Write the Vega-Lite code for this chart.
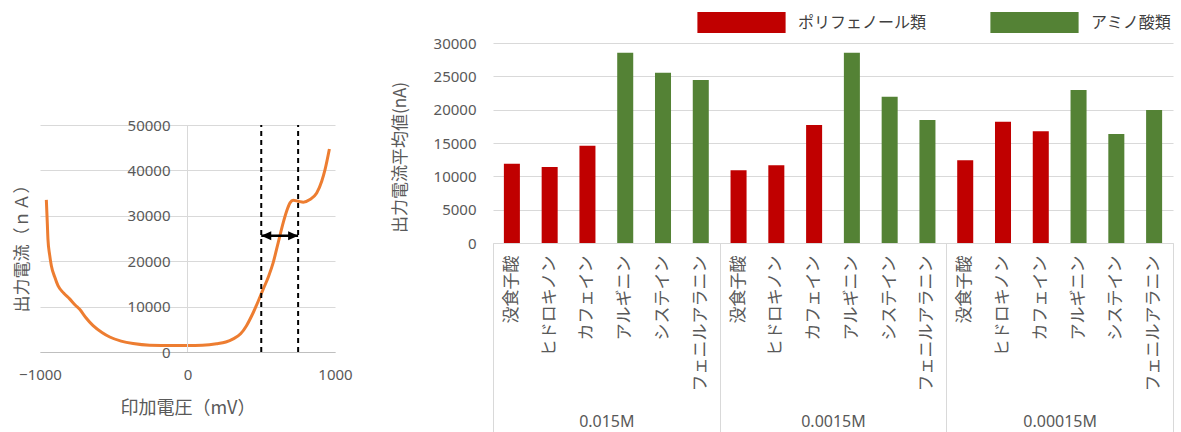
{
  "$schema": "https://vega.github.io/schema/vega-lite/v6.json",
  "padding": {"left": 13, "top": 12, "right": 5, "bottom": 0},
  "bounds": "flush",
  "spacing": 158,
  "config": {
    "view": {"stroke": null},
    "font": "Noto Sans CJK JP",
    "axis": {"titleFontWeight": "normal", "titleColor": "#595959", "labelColor": "#595959"}
  },
  "hconcat": [
    {
      "width": 295,
      "height": 309,
      "layer": [
        {
          "data": {"values": [
            {"mV": -957, "nA": 33500}, {"mV": -950, "nA": 28000}, {"mV": -946, "nA": 24800},
            {"mV": -935, "nA": 21500}, {"mV": -923, "nA": 19000}, {"mV": -900, "nA": 16500},
            {"mV": -878, "nA": 14600}, {"mV": -840, "nA": 13000}, {"mV": -799, "nA": 11700},
            {"mV": -760, "nA": 10300}, {"mV": -731, "nA": 9400}, {"mV": -690, "nA": 7600},
            {"mV": -640, "nA": 5800}, {"mV": -580, "nA": 4300}, {"mV": -527, "nA": 3300},
            {"mV": -450, "nA": 2400}, {"mV": -369, "nA": 1850}, {"mV": -256, "nA": 1500},
            {"mV": -100, "nA": 1450}, {"mV": 0, "nA": 1450}, {"mV": 100, "nA": 1500},
            {"mV": 197, "nA": 1800}, {"mV": 260, "nA": 2200}, {"mV": 310, "nA": 2900},
            {"mV": 360, "nA": 4000}, {"mV": 400, "nA": 5800}, {"mV": 446, "nA": 8700},
            {"mV": 514, "nA": 13900}, {"mV": 550, "nA": 16700}, {"mV": 581, "nA": 19700},
            {"mV": 615, "nA": 24100}, {"mV": 649, "nA": 28500}, {"mV": 672, "nA": 31000},
            {"mV": 695, "nA": 32850}, {"mV": 717, "nA": 33400}, {"mV": 751, "nA": 33200},
            {"mV": 785, "nA": 33000}, {"mV": 830, "nA": 33600}, {"mV": 876, "nA": 35000},
            {"mV": 910, "nA": 37600}, {"mV": 932, "nA": 40100}, {"mV": 962, "nA": 44700}
          ]},
          "mark": {"type": "line", "color": "#ED7D31", "strokeWidth": 3, "interpolate": "monotone"},
          "encoding": {
            "x": {
              "field": "mV", "type": "quantitative",
              "scale": {"domain": [-1000, 1000], "nice": false},
              "axis": {
                "values": [-1000, 0, 1000], "format": "d", "grid": false, "ticks": false,
                "labelFlush": false,
                "domain": true, "domainColor": "#bfbfbf",
                "labelPadding": 15, "labelFontSize": 15, "labelFont": "Noto Sans",
                "title": "印加電圧（mV）", "titleFontSize": 18, "titlePadding": 17
              }
            },
            "y": {
              "field": "nA", "type": "quantitative",
              "scale": {"domain": [0, 68062], "nice": false},
              "axis": {
                "values": [0, 10000, 20000, 30000, 40000, 50000], "format": "d",
                "offset": -148, "domain": false, "ticks": false,
                "grid": true, "gridColor": "#d9d9d9",
                "labelPadding": 18, "labelFontSize": 15, "labelFont": "Noto Sans",
                "title": "出力電流（ｎＡ）", "titleFontSize": 17,
                "titleX": -157, "titleY": 201
              }
            }
          }
        },
        {
          "data": {"values": [{"mV": 0}]},
          "mark": {"type": "rule", "color": "#d9d9d9", "strokeWidth": 1},
          "encoding": {
            "x": {"field": "mV", "type": "quantitative"},
            "y": {"datum": 0}, "y2": {"datum": 50000}
          }
        },
        {
          "data": {"values": [{"mV": 500}, {"mV": 750}]},
          "mark": {"type": "rule", "color": "#000000", "strokeWidth": 2, "strokeDash": [5, 4]},
          "encoding": {
            "x": {"field": "mV", "type": "quantitative"},
            "y": {"datum": 0}, "y2": {"datum": 50000}
          }
        },
        {
          "data": {"values": [{"from": 500, "to": 750, "nA": 25600}]},
          "layer": [
            {
              "mark": {"type": "rule", "color": "#000000", "strokeWidth": 2.5},
              "encoding": {
                "x": {"field": "from", "type": "quantitative"},
                "x2": {"field": "to"},
                "y": {"field": "nA", "type": "quantitative"}
              }
            },
            {
              "mark": {"type": "point", "shape": "M0,0L2,-0.9L2,0.9Z", "filled": true, "color": "#000000", "size": 100, "opacity": 1},
              "encoding": {
                "x": {"field": "from", "type": "quantitative"},
                "y": {"field": "nA", "type": "quantitative"}
              }
            },
            {
              "mark": {"type": "point", "shape": "M0,0L-2,-0.9L-2,0.9Z", "filled": true, "color": "#000000", "size": 100, "opacity": 1},
              "encoding": {
                "x": {"field": "to", "type": "quantitative"},
                "y": {"field": "nA", "type": "quantitative"}
              }
            }
          ]
        }
      ]
    },
    {
      "width": 680,
      "height": 200,
      "data": {"values": [
        {"item": "0.015M:没食子酸", "conc": "0.015M", "type": "ポリフェノール類", "value": 11900},
        {"item": "0.015M:ヒドロキノン", "conc": "0.015M", "type": "ポリフェノール類", "value": 11400},
        {"item": "0.015M:カフェイン", "conc": "0.015M", "type": "ポリフェノール類", "value": 14600},
        {"item": "0.015M:アルギニン", "conc": "0.015M", "type": "アミノ酸類", "value": 28550},
        {"item": "0.015M:システイン", "conc": "0.015M", "type": "アミノ酸類", "value": 25550},
        {"item": "0.015M:フェニルアラニン", "conc": "0.015M", "type": "アミノ酸類", "value": 24450},
        {"item": "0.0015M:没食子酸", "conc": "0.0015M", "type": "ポリフェノール類", "value": 10900},
        {"item": "0.0015M:ヒドロキノン", "conc": "0.0015M", "type": "ポリフェノール類", "value": 11650},
        {"item": "0.0015M:カフェイン", "conc": "0.0015M", "type": "ポリフェノール類", "value": 17700},
        {"item": "0.0015M:アルギニン", "conc": "0.0015M", "type": "アミノ酸類", "value": 28550},
        {"item": "0.0015M:システイン", "conc": "0.0015M", "type": "アミノ酸類", "value": 21950},
        {"item": "0.0015M:フェニルアラニン", "conc": "0.0015M", "type": "アミノ酸類", "value": 18450},
        {"item": "0.00015M:没食子酸", "conc": "0.00015M", "type": "ポリフェノール類", "value": 12400},
        {"item": "0.00015M:ヒドロキノン", "conc": "0.00015M", "type": "ポリフェノール類", "value": 18200},
        {"item": "0.00015M:カフェイン", "conc": "0.00015M", "type": "ポリフェノール類", "value": 16750},
        {"item": "0.00015M:アルギニン", "conc": "0.00015M", "type": "アミノ酸類", "value": 22950},
        {"item": "0.00015M:システイン", "conc": "0.00015M", "type": "アミノ酸類", "value": 16350},
        {"item": "0.00015M:フェニルアラニン", "conc": "0.00015M", "type": "アミノ酸類", "value": 19950}
      ]},
      "layer": [
        {
          "mark": {"type": "bar"},
          "encoding": {
            "x": {
              "field": "item", "type": "nominal", "sort": null,
              "scale": {"paddingInner": 0.576, "paddingOuter": 0.288},
              "axis": {
                "title": null, "labelAngle": -90,
                "labelExpr": "split(datum.label, ':')[1]",
                "ticks": false, "domain": true, "domainColor": "#d9d9d9",
                "labelPadding": 12, "labelFontSize": 17, "labelFont": "Noto Sans CJK JP"
              }
            },
            "y": {
              "field": "value", "type": "quantitative",
              "scale": {"domain": [0, 30000], "nice": false},
              "axis": {
                "values": [0, 5000, 10000, 15000, 20000, 25000, 30000], "format": "d",
                "domain": false, "ticks": false, "grid": true, "gridColor": "#d9d9d9",
                "labelPadding": 17, "labelFontSize": 15, "labelFont": "Noto Sans",
                "title": "出力電流平均値(nA)", "titleFontSize": 17,
                "titleX": -84, "titleY": 114
              }
            },
            "color": {
              "field": "type", "type": "nominal",
              "scale": {"domain": ["ポリフェノール類", "アミノ酸類"], "range": ["#C00000", "#548235"]},
              "legend": {
                "orient": "none", "legendX": 691, "legendY": -31,
                "direction": "horizontal", "title": null,
                "symbolType": "M-4.2,-1H4.2V1H-4.2Z", "symbolSize": 441,
                "symbolOffset": 0, "symbolStrokeWidth": 0,
                "labelOffset": 46, "labelFontSize": 16, "labelColor": "#404040",
                "labelFont": "Noto Sans CJK JP", "labelLimit": 300,
                "columnPadding": 63, "padding": 0,
                "encode": {"symbols": {"update": {"fill": {"signal": "datum.value === 'アミノ酸類' ? '#4F6228' : '#C00000'"}}}}
              }
            }
          }
        },
        {
          "mark": {"type": "rect", "opacity": 0},
          "encoding": {
            "x": {
              "field": "conc", "type": "nominal", "sort": null,
              "scale": {"type": "band", "paddingInner": 0, "paddingOuter": 0},
              "axis": {
                "orient": "bottom", "title": null, "labelAngle": 0,
                "tickBand": "extent", "ticks": true, "tickSize": 189, "tickColor": "#d9d9d9",
                "domain": false, "labelPadding": -19, "labelFontSize": 16, "labelFont": "Noto Sans"
              }
            }
          }
        }
      ],
      "resolve": {"scale": {"x": "independent"}, "axis": {"x": "independent"}}
    }
  ]
}
